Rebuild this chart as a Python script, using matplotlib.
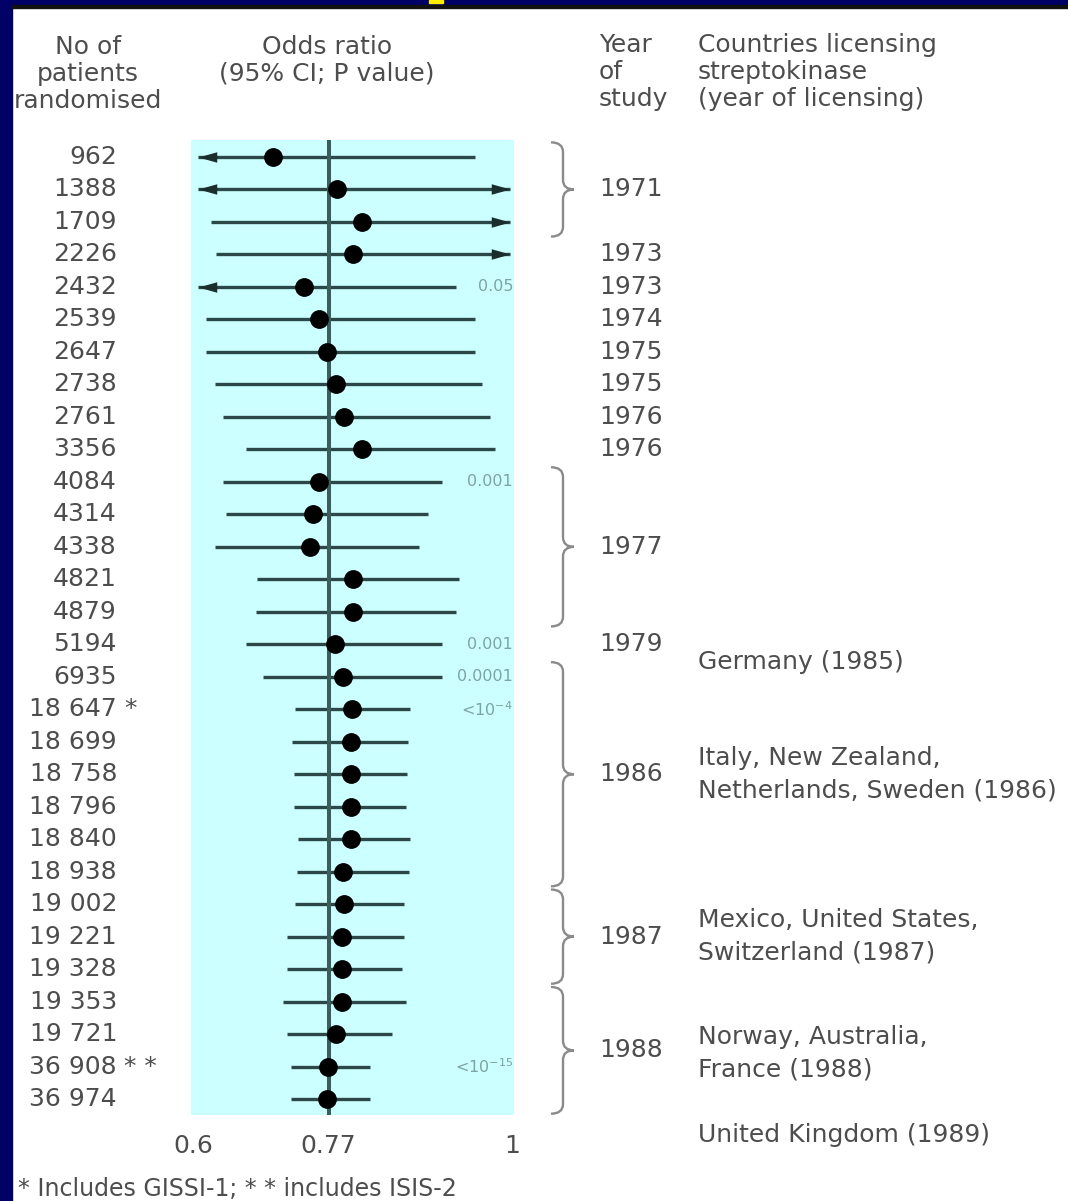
import numpy as np
import matplotlib
matplotlib.use("Agg")
import matplotlib.pyplot as plt
from matplotlib.path import Path
from matplotlib.patches import PathPatch, Rectangle
from matplotlib.transforms import blended_transform_factory

# ---- data ----
patients = ["962", "1388", "1709", "2226", "2432", "2539", "2647", "2738", "2761", "3356",
            "4084", "4314", "4338", "4821", "4879", "5194", "6935",
            "18 647", "18 699", "18 758", "18 796", "18 840", "18 938",
            "19 002", "19 221", "19 328", "19 353", "19 721", "36 908", "36 974"]
stars = {17: "*", 28: "* *"}

odds = [0.700, 0.780, 0.812, 0.800, 0.739, 0.758, 0.768, 0.779, 0.789, 0.812,
        0.758, 0.750, 0.747, 0.800, 0.800, 0.778, 0.788,
        0.799, 0.798, 0.798, 0.798, 0.798, 0.788,
        0.789, 0.787, 0.787, 0.787, 0.779, 0.769, 0.768]
ci_low = [0.606, 0.606, 0.623, 0.629, 0.606, 0.616, 0.616, 0.627, 0.637, 0.667,
          0.637, 0.641, 0.627, 0.680, 0.679, 0.667, 0.688,
          0.728, 0.724, 0.727, 0.727, 0.732, 0.730,
          0.728, 0.718, 0.718, 0.713, 0.718, 0.723, 0.723]
ci_high = [0.954, 0.9975, 0.9975, 0.9975, 0.930, 0.954, 0.953, 0.962, 0.972, 0.979,
           0.912, 0.895, 0.883, 0.934, 0.930, 0.912, 0.912,
           0.872, 0.870, 0.868, 0.867, 0.872, 0.871,
           0.864, 0.864, 0.862, 0.867, 0.849, 0.822, 0.822]
left_arrow = [0, 1, 4]
right_arrow = [1, 2, 3]

p_values = {4: "0.05", 10: "0.001", 15: "0.001", 16: "0.0001",
            17: r"<10$^{-4}$", 28: r"<10$^{-15}$"}

single_years = {3: "1973", 4: "1973", 5: "1974", 6: "1975", 7: "1975",
                8: "1976", 9: "1976", 15: "1979"}
year_groups = [(0, 2, "1971"), (10, 14, "1977"), (16, 22, "1986"),
               (23, 25, "1987"), (26, 29, "1988")]

countries = [(15.55, "Germany (1985)"),
             (18.5, "Italy, New Zealand,"), (19.5, "Netherlands, Sweden (1986)"),
             (23.5, "Mexico, United States,"), (24.5, "Switzerland (1987)"),
             (27.1, "Norway, Australia,"), (28.1, "France (1988)"),
             (30.1, "United Kingdom (1989)")]

ref_or = 0.77
ticks = [0.6, 0.77, 1.0]
tick_labels = ["0.6", "0.77", "1"]

# ---- figure ----
W, H = 1068, 1201
fig = plt.figure(figsize=(W / 100, H / 100), dpi=100, facecolor="white")

TXT = "#4d4d4d"
FS = 18

def fx(px):
    return px / W

def fy(py):
    return 1 - py / H

# navy frame bits
fig.patches.append(Rectangle((0, 0), fx(12), 1, transform=fig.transFigure,
                             color="#000066", zorder=0))
fig.patches.append(Rectangle((0, fy(5)), 1, 5 / H, transform=fig.transFigure,
                             color="#000066", zorder=0))
fig.patches.append(Rectangle((fx(12), fy(8)), 1, 3 / H, transform=fig.transFigure,
                             color="#111111", zorder=0))
fig.patches.append(Rectangle((fx(429), fy(3)), 14 / W, 3 / H, transform=fig.transFigure,
                             color="#ffee00", zorder=1))

ax = fig.add_axes([fx(191), 1 - 1115 / H, (514 - 191) / W, (1115 - 140) / H])
ax.set_facecolor("#ccffff")
ax.set_xlim(0.5975, 1.0025)
ax.set_ylim(29.49, -0.523)
for s in ax.spines.values():
    s.set_visible(False)
ax.set_yticks([])
ax.set_xticks(ticks)
ax.set_xticklabels(tick_labels)
ax.tick_params(axis="x", length=0, pad=14, labelsize=FS, labelcolor=TXT)

rows = np.arange(len(patients))
line_col = "#2b4747"
ax.hlines(rows, ci_low, ci_high, color=line_col, lw=2.4, zorder=2)
ax.axvline(ref_or, color="#3d5c5c", lw=2.9, zorder=3)
ax.plot(odds, rows, "o", color="black", ms=12.5, zorder=4)

head_l = [(0, 0), (1, -0.28), (1, 0.28), (0, 0)]
head_r = [(0, 0), (-1, -0.28), (-1, 0.28), (0, 0)]
for i in left_arrow:
    ax.plot(ci_low[i], i, marker=head_l, ms=27, color="#1a2e2e", mew=0, zorder=3)
for i in right_arrow:
    ax.plot(ci_high[i], i, marker=head_r, ms=27, color="#1a2e2e", mew=0, zorder=3)

for i, p in p_values.items():
    ax.text(1.0015, i, p, ha="right", va="center", fontsize=11.5, color="#7ea3a3")

trans = blended_transform_factory(fig.transFigure, ax.transData)

# patient numbers
for i, n in enumerate(patients):
    ax.text(fx(117), i, n, transform=trans, ha="right", va="center",
            fontsize=FS, color=TXT)
for i, s in stars.items():
    ax.text(fx(124), i, s, transform=trans, ha="left", va="center",
            fontsize=FS, color=TXT)

# years
for i, y in single_years.items():
    ax.text(fx(599), i, y, transform=trans, ha="left", va="center",
            fontsize=FS, color=TXT)

def brace(r0, r1):
    top, bot, mid, h = r0 - 0.45, r1 + 0.45, (r0 + r1) / 2, 0.3
    xa, xs, xt = fx(551), fx(563), fx(574)
    verts = [(xa, top), (xs, top), (xs, top + h),
             (xs, mid - h), (xs, mid), (xt, mid),
             (xs, mid), (xs, mid + h),
             (xs, bot - h), (xs, bot), (xa, bot)]
    codes = [Path.MOVETO, Path.CURVE3, Path.CURVE3,
             Path.LINETO, Path.CURVE3, Path.CURVE3,
             Path.CURVE3, Path.CURVE3,
             Path.LINETO, Path.CURVE3, Path.CURVE3]
    ax.add_patch(PathPatch(Path(verts, codes), transform=trans, fill=False,
                           edgecolor="#8a8a8a", lw=1.7, clip_on=False))

for r0, r1, y in year_groups:
    brace(r0, r1)
    ax.text(fx(599), (r0 + r1) / 2, y, transform=trans, ha="left", va="center",
            fontsize=FS, color=TXT)

for r, c in countries:
    ax.text(fx(698), r, c, transform=trans, ha="left", va="center",
            fontsize=FS, color=TXT)

# headers
for k, t in enumerate(["No of", "patients", "randomised"]):
    fig.text(fx(88), fy(47 + 27 * k), t, ha="center", va="center", fontsize=FS, color=TXT)
for k, t in enumerate(["Odds ratio", "(95% CI; P value)"]):
    fig.text(fx(327), fy(47 + 27 * k), t, ha="center", va="center", fontsize=FS, color=TXT)
for k, t in enumerate(["Year", "of", "study"]):
    fig.text(fx(599), fy(45 + 27 * k), t, ha="left", va="center", fontsize=FS, color=TXT)
for k, t in enumerate(["Countries licensing", "streptokinase", "(year of licensing)"]):
    fig.text(fx(698), fy(45 + 27 * k), t, ha="left", va="center", fontsize=FS, color=TXT)

fig.text(fx(18), fy(1196), "* Includes GISSI-1; * * includes ISIS-2", ha="left",
         va="baseline", fontsize=17, color=TXT)

fig.savefig("out.png", dpi=100, facecolor="white")
